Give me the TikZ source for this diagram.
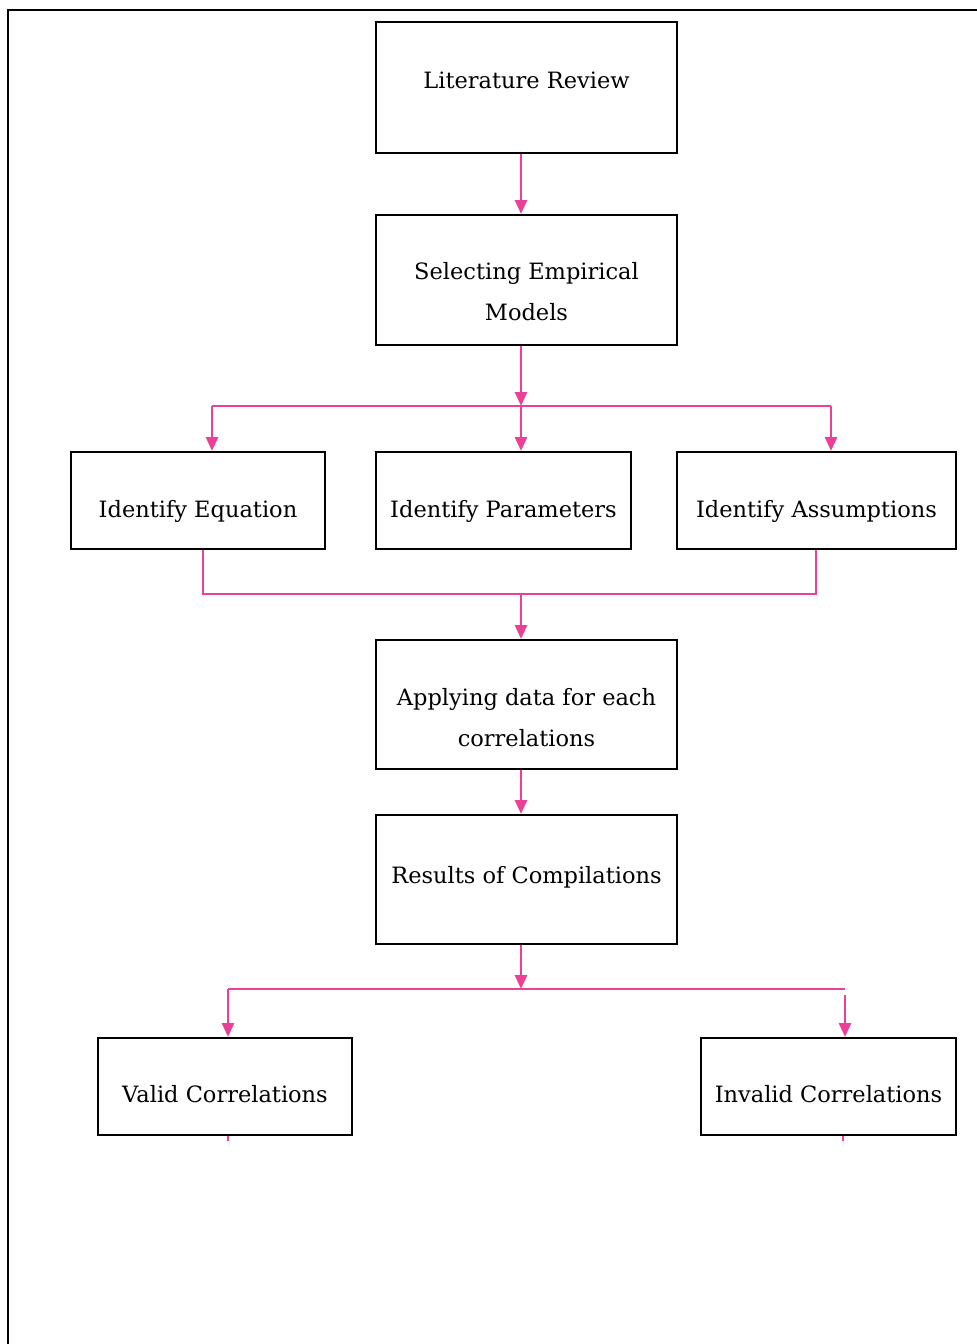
\documentclass[tikz,border=0pt]{standalone}
\usepackage{fontspec}
\setmainfont{DejaVu Serif}
\usetikzlibrary{arrows.meta}
\definecolor{linkpink}{RGB}{236,64,150}
\newcommand\boxtext[2]{\raisebox{#1}[\height][\depth]{\begin{tabular}{@{}c@{}}#2\end{tabular}}}
\tikzset{
  flow box/.style={
    draw,
    line width=2pt,
    rectangle,
    align=center,
    font=\fontsize{22.5}{41}\selectfont,
  },
  link/.style={
    draw=linkpink,
    line width=2.8pt,
  },
  flow/.style={
    link,
    -{Triangle[width=12pt,length=14pt]},
  },
}

\begin{document}
\begin{tikzpicture}[x=1pt, y=-1pt]
      \useasboundingbox (0,0) rectangle (977,1344);
      \draw[line width=2.4pt] (8,1344) -- (8,10) -- (977,10);

      \node[flow box, minimum width=301pt, minimum height=131pt] (lit) at (526.5,87.5) {\boxtext{7pt}{Literature Review}};
      \node[flow box, minimum width=301pt, minimum height=130pt] (sel) at (526.5,280) {\boxtext{-12pt}{Selecting Empirical\\Models}};
      \node[flow box, minimum width=254pt, minimum height=97pt] (eqn) at (198,500.5) {\boxtext{-9pt}{Identify Equation}};
      \node[flow box, minimum width=255pt, minimum height=97pt] (par) at (503.5,500.5) {\boxtext{-9pt}{Identify Parameters}};
      \node[flow box, minimum width=279pt, minimum height=97pt] (asm) at (816.5,500.5) {\boxtext{-9pt}{Identify Assumptions}};
      \node[flow box, minimum width=301pt, minimum height=129pt] (app) at (526.5,704.5) {\boxtext{-13pt}{Applying data for each\\correlations}};
      \node[flow box, minimum width=301pt, minimum height=129pt] (res) at (526.5,879.5) {\boxtext{4pt}{Results of Compilations}};
      \node[flow box, minimum width=254pt, minimum height=97pt] (val) at (225,1086.5) {\boxtext{-8pt}{Valid Correlations}};
      \node[flow box, minimum width=255pt, minimum height=97pt] (inv) at (828.5,1086.5) {\boxtext{-8pt}{Invalid Correlations}};

      \coordinate (b1) at (521,406);
      \coordinate (b1l) at (212,406);
      \coordinate (b1r) at (831,406);
      \coordinate (b2) at (521,594);
      \coordinate (b2l) at (203,594);
      \coordinate (b2r) at (816,594);
      \coordinate (b3) at (521,989);
      \coordinate (b3l) at (228,989);
      \coordinate (b3r) at (845,989);

      \draw[flow] (lit.south -| b1) -- (sel.north -| b1);
      \draw[flow] (sel.south -| b1) -- (b1);
      \draw[link] (b1l) -- (b1r);
      \draw[flow] (b1l) -- (eqn.north -| b1l);
      \draw[flow] (b1) -- (par.north -| b1);
      \draw[flow] (b1r) -- (asm.north -| b1r);

      \draw[link] (eqn.south -| b2l) -- (b2l) -- (b2r) -- (asm.south -| b2r);
      \draw[flow] (b2) -- (app.north -| b2);
      \draw[flow] (app.south -| b2) -- (res.north -| b2);

      \draw[flow] (res.south -| b3) -- (b3);
      \draw[link] (b3l) -- (b3r);
      \draw[flow] (b3l) -- (val.north -| b3l);
      \draw[flow] ([yshift=-6pt]b3r) -- (inv.north -| b3r);
      \draw[link] (val.south -| b3l) -- ++(0,5);
      \draw[link] ([xshift=-2pt]inv.south -| b3r) -- ++(0,5);
    \end{tikzpicture}
\end{document}
